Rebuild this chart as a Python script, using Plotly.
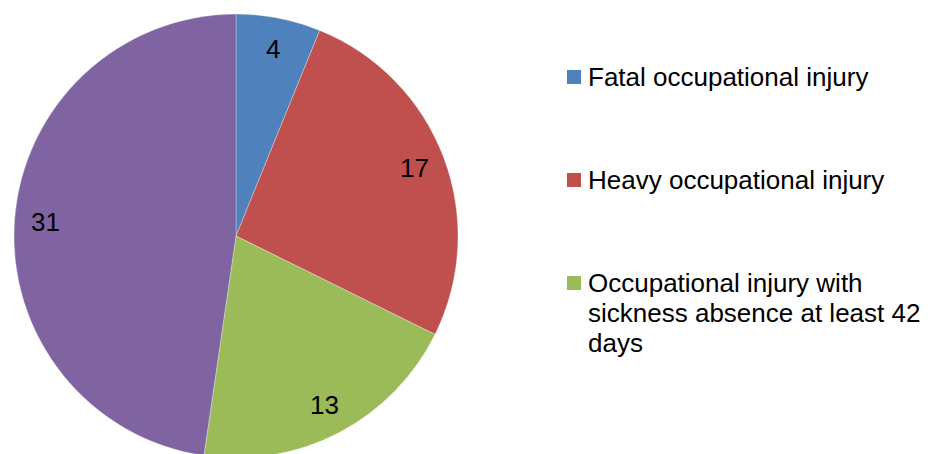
import math
import plotly.graph_objects as go

# ---- data ----
categories = [
    "Fatal occupational injury",
    "Heavy occupational injury",
    "Occupational injury with sickness absence at least 42 days",
    "Other",
]
values = [4, 17, 13, 31]
colors = ["#4F81BD", "#C0504D", "#9BBB59", "#8064A2"]
# legend as shown in the picture (only first three entries, wrapped lines)
legend_lines = [
    ["Fatal occupational injury"],
    ["Heavy occupational injury"],
    ["Occupational injury with", "sickness absence at least 42", "days"],
]

W, H = 930, 454
OFF = 8  # page body margin: figure sits 8px right/down of the page origin
FONT = "Liberation Sans, Arial, sans-serif"
FS = 26

# pie geometry in page pixels
cx, cy, R = 236, 236, 222


def px_x(x):
    return (x - OFF) / W


def px_y(y):
    return 1 - (y - OFF) / H


fig = go.Figure()
fig.add_trace(go.Pie(
    labels=categories,
    values=values,
    sort=False,
    direction="clockwise",
    rotation=0,
    marker=dict(colors=colors, line=dict(color="rgba(255,255,255,0.6)", width=0.5)),
    textinfo="none",
    showlegend=False,
    hoverinfo="label+value",
    domain=dict(x=[px_x(cx - R), px_x(cx + R)], y=[px_y(cy + R), px_y(cy - R)]),
))

annotations = []
shapes = []
# value labels at mid-angle of each slice
total = sum(values)
cum = 0
for v in values:
    mid = (cum + v / 2) / total * 2 * math.pi
    cum += v
    lx = cx + 0.86 * R * math.sin(mid)
    ly = cy - 0.86 * R * math.cos(mid)
    annotations.append(dict(
        x=px_x(lx), y=px_y(ly), xref="paper", yref="paper",
        text=str(v), showarrow=False, xanchor="center", yanchor="middle",
        font=dict(family=FONT, size=FS, color="#000000"),
    ))

# custom legend
leg_x_sq = 567
sq = 14
text_x = 586
entry_y = [77, 180, 283]
line_h = 30
for i, lines in enumerate(legend_lines):
    y0 = entry_y[i]
    shapes.append(dict(
        type="rect", xref="paper", yref="paper",
        x0=px_x(leg_x_sq), x1=px_x(leg_x_sq + sq),
        y0=px_y(y0 + sq / 2), y1=px_y(y0 - sq / 2),
        fillcolor=colors[i], line=dict(width=0),
    ))
    for j, t in enumerate(lines):
        annotations.append(dict(
            x=px_x(text_x), y=px_y(y0 + j * line_h), xref="paper", yref="paper",
            text=t, showarrow=False, xanchor="left", yanchor="middle",
            font=dict(family=FONT, size=FS, color="#000000"),
        ))

fig.update_layout(
    width=W, height=H,
    margin=dict(l=0, r=0, t=0, b=0),
    paper_bgcolor="white", plot_bgcolor="white",
    annotations=annotations, shapes=shapes,
    showlegend=False,
)

fig.write_html("out.html")
